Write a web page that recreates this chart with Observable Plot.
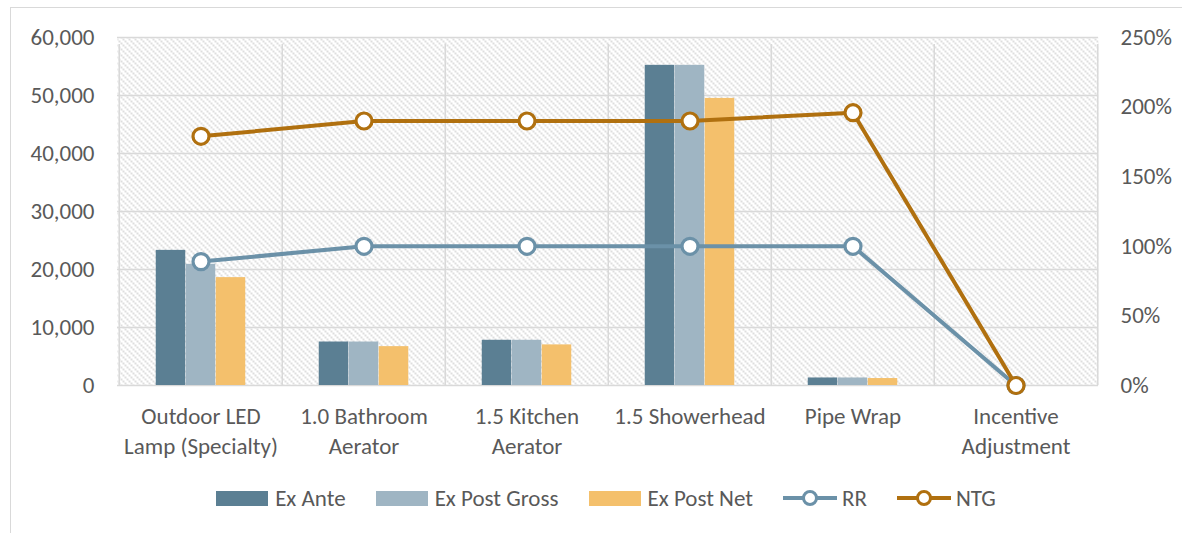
<!DOCTYPE html>
<html>
<head>
<meta charset="utf-8">
<script src="https://cdn.jsdelivr.net/npm/d3@7"></script>
<script src="https://cdn.jsdelivr.net/npm/@observablehq/plot@0.6"></script>
<style>
  html, body { margin: 0; padding: 0; background: #fff; }
  #chart {
    position: relative; width: 1182px; height: 533px; overflow: hidden;
    font-family: Carlito, Calibri, Lato, "Open Sans", sans-serif; color: #595959;
  }
  #frame {
    position: absolute; left: 10px; top: 7px; width: 1200px; height: 600px;
    border-left: 1.5px solid #d9d9d9; border-top: 1.5px solid #d9d9d9;
    box-sizing: border-box; pointer-events: none;
  }
  #plot { position: absolute; left: 0; top: 0; }
  #legend {
    position: absolute; left: 0; width: 1212px; top: 484px; display: flex; align-items: center;
    justify-content: center; font-size: 23px; color: #595959;
  }
  .item { display: flex; align-items: center; margin-right: 30px; }
  .item:last-child { margin-right: 0; }
  .item svg { margin-right: 5px; }
</style>
</head>
<body>
<div id="chart">
  <div id="frame"></div>
  <div id="plot"></div>
  <div id="legend"></div>
</div>
<script>
// Measures and their two-line axis labels
const categories = [
  "Outdoor LED Lamp (Specialty)",
  "1.0 Bathroom Aerator",
  "1.5 Kitchen Aerator",
  "1.5 Showerhead",
  "Pipe Wrap",
  "Incentive Adjustment"
];
const tickLabels = [
  "Outdoor LED\nLamp (Specialty)",
  "1.0 Bathroom\nAerator",
  "1.5 Kitchen\nAerator",
  "1.5 Showerhead",
  "Pipe Wrap",
  "Incentive\nAdjustment"
];

// Savings (left axis)
const exAnte      = [23300, 7500, 7800, 55200, 1300, 0];
const exPostGross = [20900, 7500, 7800, 55200, 1300, 0];
const exPostNet   = [18600, 6700, 7000, 49500, 1200, 0];

// Ratios (right axis)
const rr  = [0.89, 1.00, 1.00, 1.00, 1.00, 0];
const ntg = [1.79, 1.90, 1.90, 1.90, 1.96, 0];

const leftTicks = [0, 10000, 20000, 30000, 40000, 50000, 60000];
const rightTicks = [0, 0.5, 1.0, 1.5, 2.0, 2.5];

const colors = {
  exAnte: "#5b7f93",
  exPostGross: "#9fb5c3",
  exPostNet: "#f4c06c",
  rr: "#6b91a8",
  ntg: "#b0700f"
};

// The right axis shares the left scale: 250% sits at 60,000
const yMax = 60000, rMax = 2.5;
const toY = (r) => r * yMax / rMax;

const rows = categories.map((c, i) => ({
  category: c, exAnte: exAnte[i], exPostGross: exPostGross[i], exPostNet: exPostNet[i],
  rr: toY(rr[i]), ntg: toY(ntg[i])
}));

const W = 1182, H = 475;
const mL = 117, mR = 84, mT = 37, mB = H - 385;
const bw = (W - mL - mR) / categories.length;
const barW = 30;
const inset = (bw - barW) / 2;
const font = "Carlito, Calibri, Lato, 'Open Sans', sans-serif";
const fs = 23;
const grid = "#d9d9d9";

// Diagonal hatch fill for the plotting area
const hatchDefs = () => {
  const defs = d3.create("svg:defs");
  const p = defs.append("pattern").attr("id", "hatch").attr("patternUnits", "userSpaceOnUse")
    .attr("width", 6).attr("height", 6);
  p.append("rect").attr("width", 6).attr("height", 6).attr("fill", "#fff");
  for (let k = 0; k < 3; k++) {
    p.append("rect").attr("x", 2 * k).attr("y", 2 * k).attr("width", 2).attr("height", 2)
      .attr("fill", "#dedede").attr("shape-rendering", "crispEdges");
  }
  return defs.node();
};

const bar = (key, dx) => Plot.barY(rows, {
  x: "category", y: key, fill: colors[key], dx,
  insetLeft: inset, insetRight: inset
});

const series = (key) => [
  Plot.line(rows, {x: "category", y: key, stroke: colors[key], strokeWidth: 4}),
  Plot.dot(rows, {x: "category", y: key, r: 8, fill: "#fff", stroke: colors[key], strokeWidth: 3.2})
];

const plot = Plot.plot({
  width: W, height: H,
  marginLeft: mL, marginRight: mR, marginTop: mT, marginBottom: mB,
  style: {fontFamily: font, fontSize: fs + "px", color: "#595959", background: "transparent"},
  x: {type: "band", domain: categories, padding: 0},
  y: {domain: [0, yMax]},
  marks: [
    hatchDefs,
    Plot.frame({fill: "url(#hatch)", stroke: null}),
    Plot.ruleY(leftTicks, {stroke: grid, strokeWidth: 1.5}),
    // category separators, extending a little below the axis
    Plot.ruleX(categories, {x: d => d, dx: -bw / 2, y1: 0, y2: yMax, insetBottom: -7, stroke: grid, strokeWidth: 1.5}),
    Plot.ruleX(categories.slice(-1), {x: d => d, dx: bw / 2, y1: 0, y2: yMax, insetBottom: -7, stroke: grid, strokeWidth: 1.5}),
    bar("exAnte", -barW),
    bar("exPostGross", 0),
    bar("exPostNet", barW),
    ...series("rr"),
    ...series("ntg"),
    Plot.axisY({ticks: leftTicks, tickSize: 0, tickPadding: 23, tickFormat: d => d3.format(",")(d), label: null, fontSize: fs}),
    Plot.axisY({anchor: "right", ticks: rightTicks.map(toY), tickSize: 0, tickPadding: 22, textAnchor: "start",
      tickFormat: d => Math.round(d / yMax * rMax * 100) + "%", label: null, fontSize: fs}),
    Plot.axisX({tickSize: 0, tickPadding: 17, lineHeight: 1.3, fontSize: fs, label: null,
      tickFormat: d => tickLabels[categories.indexOf(d)]})
  ]
});
document.getElementById("plot").appendChild(plot);

// Legend
const legendItems = [
  {label: "Ex Ante", kind: "bar", color: colors.exAnte},
  {label: "Ex Post Gross", kind: "bar", color: colors.exPostGross},
  {label: "Ex Post Net", kind: "bar", color: colors.exPostNet},
  {label: "RR", kind: "line", color: colors.rr},
  {label: "NTG", kind: "line", color: colors.ntg}
];
const legend = d3.select("#legend");
for (const it of legendItems) {
  const item = legend.append("div").attr("class", "item");
  const s = item.append("svg").attr("width", 54).attr("height", 18);
  if (it.kind === "bar") {
    s.append("rect").attr("x", 0).attr("y", 2).attr("width", 52).attr("height", 15).attr("fill", it.color);
  } else {
    s.append("line").attr("x1", 0).attr("x2", 54).attr("y1", 9).attr("y2", 9)
      .attr("stroke", it.color).attr("stroke-width", 4);
    s.append("circle").attr("cx", 27).attr("cy", 9).attr("r", 6.5)
      .attr("fill", "#fff").attr("stroke", it.color).attr("stroke-width", 3);
  }
  item.append("span").text(it.label);
}
</script>
</body>
</html>
